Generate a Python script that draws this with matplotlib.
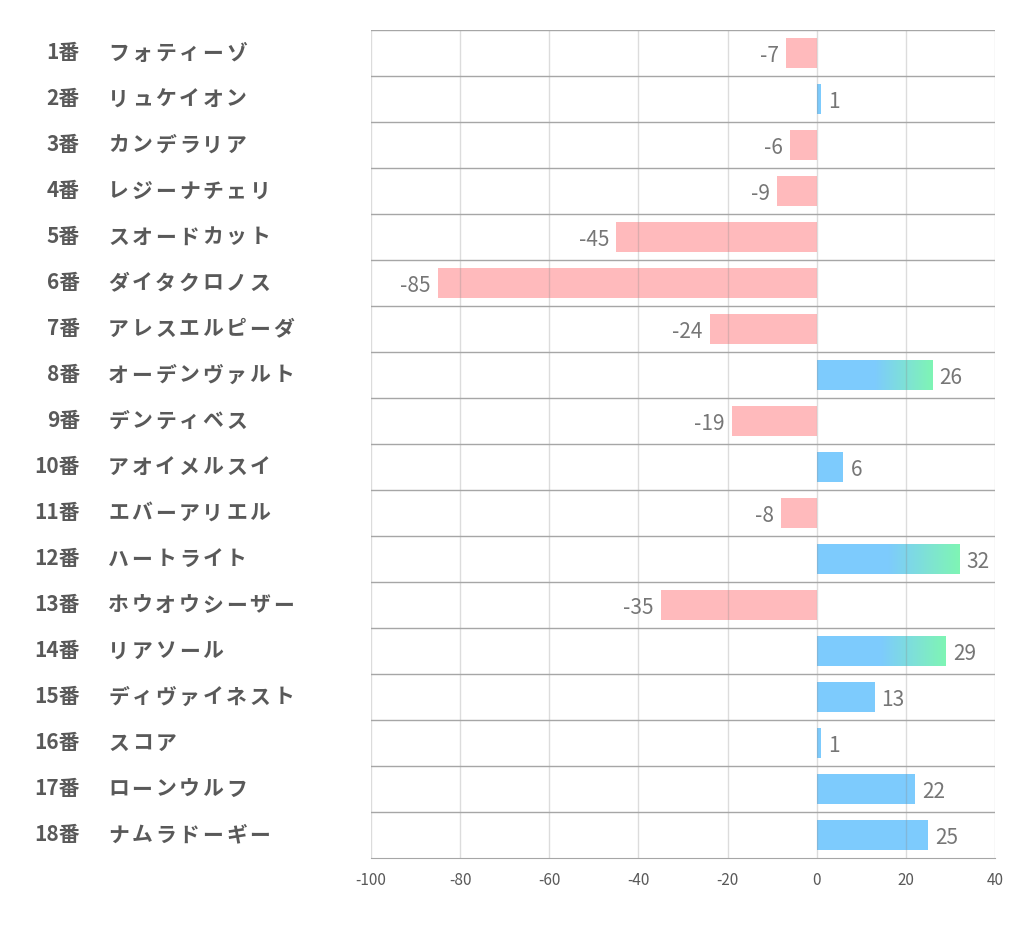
import numpy as np
import matplotlib
matplotlib.use("Agg")
import matplotlib.pyplot as plt
import matplotlib.transforms as mtransforms
from matplotlib.colors import LinearSegmentedColormap

numbers = [f"{i}番" for i in range(1, 19)]
names = [
    "フォティーゾ", "リュケイオン", "カンデラリア", "レジーナチェリ",
    "スオードカット", "ダイタクロノス", "アレスエルピーダ", "オーデンヴァルト",
    "デンティベス", "アオイメルスイ", "エバーアリエル", "ハートライト",
    "ホウオウシーザー", "リアソール", "ディヴァイネスト", "スコア",
    "ローンウルフ", "ナムラドーギー",
]
values = [-7, 1, -6, -9, -45, -85, -24, 26, -19, 6, -8, 32, -35, 29, 13, 1, 22, 25]
x_ticks = [-100, -80, -60, -40, -20, 0, 20, 40]

BLUE = "#7dcbfd"
GREEN = "#7ff5b4"
PINK = "#ffbabc"
W = 1022


def main():
    plt.rcParams['font.family'] = ['Noto Sans CJK JP', 'DejaVu Sans']
    fig = plt.figure(figsize=(10.22, 9.39), dpi=100)
    ax = fig.add_axes([0.363, 0.0863, 0.6106, 0.8818])

    ypos = np.arange(len(values))
    h = 0.65
    top3 = sorted([v for v in values if v > 0], reverse=True)[:3]
    cmap = LinearSegmentedColormap.from_list("bg", [BLUE, GREEN])
    grad = np.linspace(0, 1, 256).reshape(1, -1)

    for y, v in zip(ypos, values):
        color = BLUE if v > 0 else PINK
        ax.barh(y, v, height=h, color=color, zorder=2)
        if v in top3:
            ax.imshow(grad, cmap=cmap, aspect='auto', zorder=2.1,
                      extent=[v * 0.5, v, y + h / 2, y - h / 2])
        if v >= 0:
            ax.annotate(str(v), (v, y), xytext=(5, -2), textcoords='offset points',
                        ha='left', va='center', fontsize=15, color='#767676')
        else:
            ax.annotate(str(v), (v, y), xytext=(-5, -2), textcoords='offset points',
                        ha='right', va='center', fontsize=15, color='#767676')

    for x in x_ticks:
        ax.axvline(x, color=(0.55, 0.55, 0.55, 0.3), lw=1, zorder=3)
    for i in range(len(values)):
        ax.axhline(i - 0.5, color='#a6a6a6', lw=1, zorder=3)

    ax.set_xlim(-100, 40)
    ax.set_ylim(len(values) - 0.5, -0.5)
    ax.set_xticks(x_ticks)
    ax.set_xticklabels([str(t) for t in x_ticks], fontsize=11, color='#595959')
    ax.tick_params(axis='x', length=0, pad=10)
    ax.set_yticks([])
    for s in ['top', 'left', 'right']:
        ax.spines[s].set_visible(False)
    ax.spines['bottom'].set_color('#a6a6a6')

    # row labels sit left of the axes; names are spaced out one character at a time
    trans = mtransforms.blended_transform_factory(fig.transFigure, ax.transData)
    pitch = 23.6
    for y, num, name in zip(ypos, numbers, names):
        ax.text(80 / W, y, num, transform=trans, ha='right', va='center',
                fontsize=15, fontweight='bold', color='#595959', clip_on=False)
        for k, ch in enumerate(name):
            ax.text((108 + k * pitch) / W, y, ch, transform=trans, ha='left',
                    va='center', fontsize=15, fontweight='bold', color='#595959',
                    clip_on=False)

    fig.savefig("out.png", dpi=100)


if __name__ == "__main__":
    main()
